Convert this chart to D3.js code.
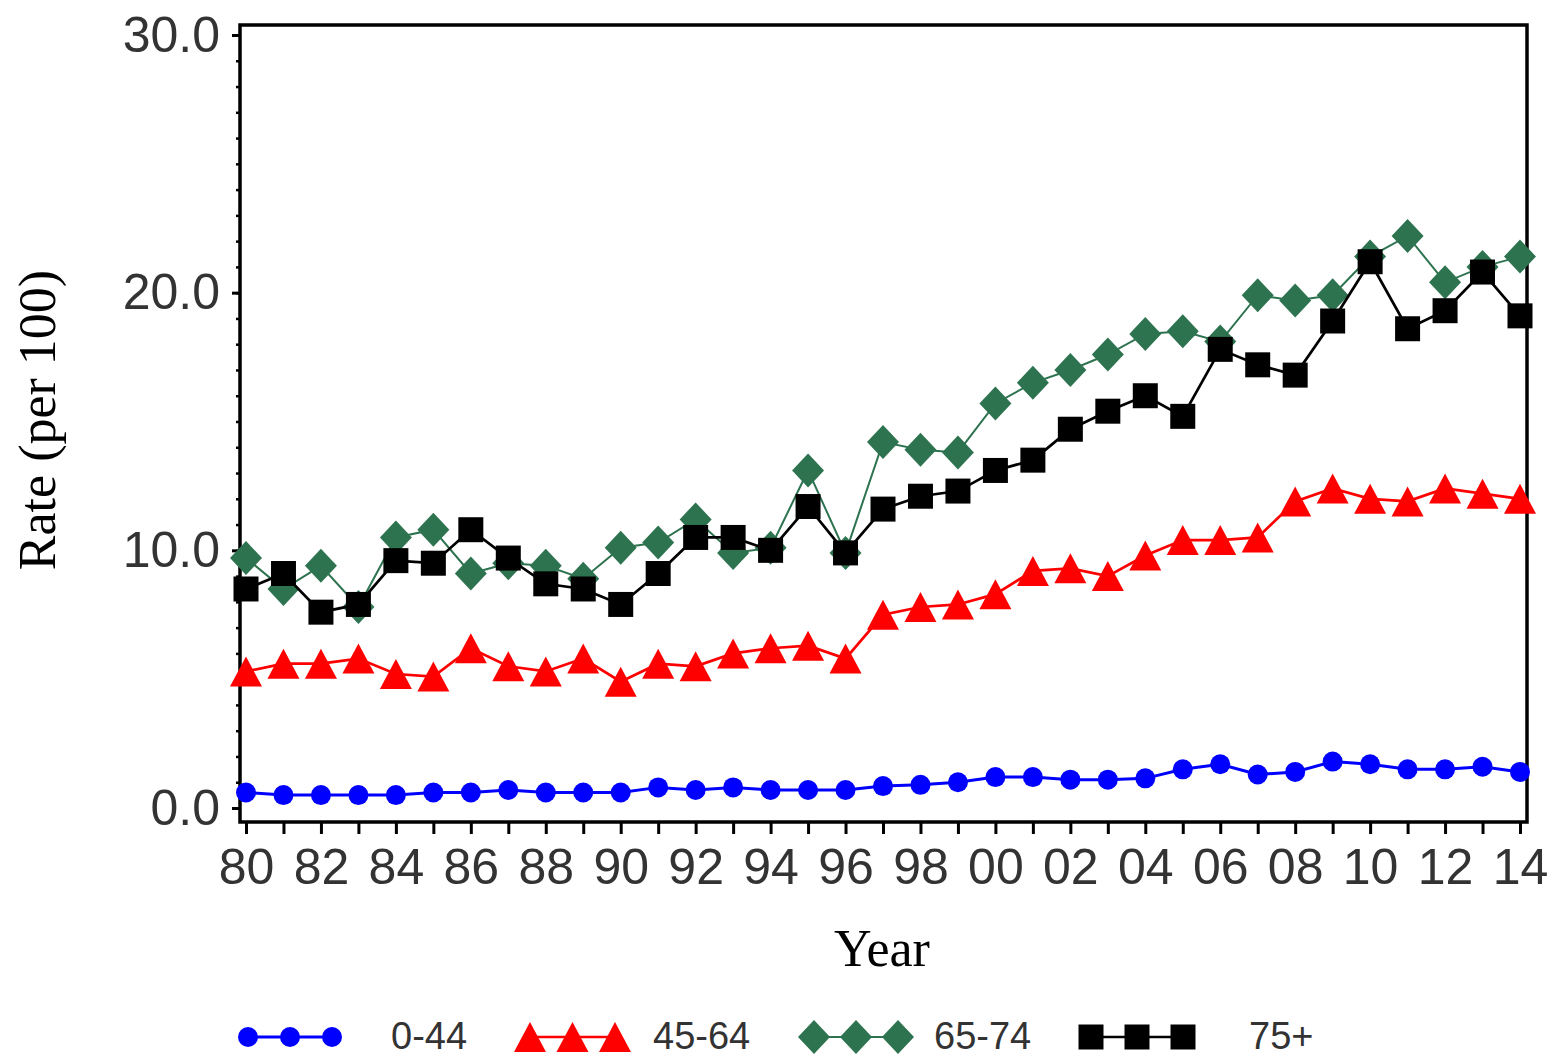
<!DOCTYPE html>
<html>
<head>
<meta charset="utf-8">
<script src="https://cdn.jsdelivr.net/npm/d3@7"></script>
<style>
  body { margin: 0; background: #fff; }
  svg { display: block; }
  .tick text { font-family: "Liberation Sans", Arial, sans-serif; fill: #333; }
</style>
</head>
<body>
<svg width="1548" height="1056"></svg>
<script>
// Data
const years = d3.range(1980, 2015);
const age0to44 = [0.6,0.5,0.5,0.5,0.5,0.6,0.6,0.7,0.6,0.6, 0.6,0.8,0.7,0.8,0.7,0.7,0.7,0.85,0.9,1.0, 1.2,1.2,1.1,1.1,1.15,1.5,1.7,1.3,1.4,1.8, 1.7,1.5,1.5,1.6,1.4];
const age45to64 = [5.3,5.6,5.6,5.8,5.2,5.1,6.2,5.5,5.3,5.8, 4.9,5.6,5.5,6.0,6.2,6.3,5.8,7.5,7.8,7.9, 8.3,9.2,9.3,9.0,9.8,10.4,10.4,10.5,11.9,12.4, 12.0,11.9,12.4,12.2,12.0];
const age65to74 = [9.7,8.5,9.4,7.8,10.5,10.8,9.1,9.5,9.4,8.9, 10.1,10.3,11.2,9.9,10.1,13.1,9.9,14.2,13.9,13.8, 15.7,16.5,17.0,17.6,18.4,18.5,18.1,19.9,19.7,19.9, 21.4,22.2,20.4,21.0,21.4];
const age75plus = [8.5,9.1,7.6,7.9,9.6,9.5,10.8,9.7,8.7,8.5, 7.9,9.1,10.5,10.5,10.0,11.7,9.9,11.6,12.1,12.3, 13.1,13.5,14.7,15.4,16.0,15.2,17.8,17.2,16.8,18.9, 21.2,18.6,19.3,20.8,19.1];
const yTicks = [0, 10, 20, 30];
const legendLabels = ["0-44", "45-64", "65-74", "75+"];

const svg = d3.select("svg");

// marker paths centred on 0,0
const markers = {
    circle: "M-10,0A10,10 0 1,0 10,0A10,10 0 1,0 -10,0Z",
    triangle: "M0,-15L16,15L-16,15Z",
    diamond: "M0,-17L16,0L0,17L-16,0Z",
    square: "M-12.5,-12.5H12.5V12.5H-12.5Z"
};

const series = [
    { name: legendLabels[0], values: age0to44, color: "#0000ff", marker: "circle", width: 3 },
    { name: legendLabels[1], values: age45to64, color: "#ff0000", marker: "triangle", width: 2.7 },
    { name: legendLabels[2], values: age65to74, color: "#2e7350", marker: "diamond", width: 2 },
    { name: legendLabels[3], values: age75plus, color: "#000000", marker: "square", width: 2.7 }
];

const x = d3.scaleLinear().domain([1980, 2014]).range([246, 1520]);
const y = d3.scaleLinear().domain([0, 30]).range([808, 35]);

const frameLeft = 240, frameRight = 1527, frameTop = 25, frameBottom = 822;

// frame
svg.append("rect")
    .attr("x", frameLeft).attr("y", frameTop)
    .attr("width", frameRight - frameLeft).attr("height", frameBottom - frameTop)
    .attr("fill", "none").attr("stroke", "#000").attr("stroke-width", 3.5);

// y axis: minor ticks every 1, labelled majors every 10
svg.append("g")
    .attr("transform", `translate(${frameLeft},0)`)
    .call(d3.axisLeft(y).tickValues(d3.range(0, 31, 1)).tickSize(4).tickFormat(""))
    .call(g => g.select(".domain").remove())
    .selectAll("line").attr("stroke-width", 2.5);

svg.append("g")
    .attr("transform", `translate(${frameLeft},0)`)
    .call(d3.axisLeft(y).tickValues(yTicks).tickSize(8).tickPadding(12).tickFormat(d3.format(".1f")))
    .call(g => g.select(".domain").remove())
    .call(g => g.selectAll("line").attr("stroke-width", 3))
    .selectAll("text").attr("font-size", 50);

// x axis: a tick per year, label every other year
svg.append("g")
    .attr("transform", `translate(0,${frameBottom})`)
    .call(d3.axisBottom(x).tickValues(years).tickSize(12).tickPadding(14)
        .tickFormat(d => d % 2 === 0 ? String(d % 100).padStart(2, "0") : ""))
    .call(g => g.select(".domain").remove())
    .call(g => g.selectAll("line").attr("stroke-width", 3))
    .selectAll("text").attr("font-size", 50);

// axis titles
svg.append("text")
    .attr("x", 882).attr("y", 966)
    .attr("text-anchor", "middle")
    .attr("font-family", "Liberation Serif, Times New Roman, serif")
    .attr("font-size", 52)
    .text("Year");

svg.append("text")
    .attr("transform", "translate(55,420) rotate(-90)")
    .attr("text-anchor", "middle")
    .attr("font-family", "Liberation Serif, Times New Roman, serif")
    .attr("font-size", 52)
    .text("Rate (per 100)");

// lines and markers
const line = d3.line().x((d, i) => x(years[i])).y(d => y(d));

series.forEach(s => {
    const g = svg.append("g");
    g.append("path")
        .datum(s.values)
        .attr("d", line)
        .attr("fill", "none")
        .attr("stroke", s.color)
        .attr("stroke-width", s.width);
    g.selectAll("path.mk")
        .data(s.values)
        .enter().append("path")
        .attr("class", "mk")
        .attr("d", markers[s.marker])
        .attr("transform", (d, i) => `translate(${x(years[i])},${y(d)})`)
        .attr("fill", s.color);
});

// legend
const legendY = 1037;
const legendItems = [
    { start: 248, end: 332, text: 391 },
    { start: 530, end: 615, text: 653 },
    { start: 814, end: 898, text: 934 },
    { start: 1091, end: 1183, text: 1249 }
];

series.forEach((s, k) => {
    const it = legendItems[k];
    const g = svg.append("g");
    g.append("line")
        .attr("x1", it.start).attr("x2", it.end)
        .attr("y1", legendY).attr("y2", legendY)
        .attr("stroke", s.color).attr("stroke-width", s.width);
    [it.start, (it.start + it.end) / 2, it.end].forEach(px => {
        g.append("path")
            .attr("d", markers[s.marker])
            .attr("transform", `translate(${px},${legendY})`)
            .attr("fill", s.color);
    });
    g.append("text")
        .attr("x", it.text).attr("y", 1049)
        .attr("font-family", "Liberation Sans, Arial, sans-serif")
        .attr("font-size", 38)
        .attr("fill", "#333")
        .text(s.name);
});
</script>
</body>
</html>
